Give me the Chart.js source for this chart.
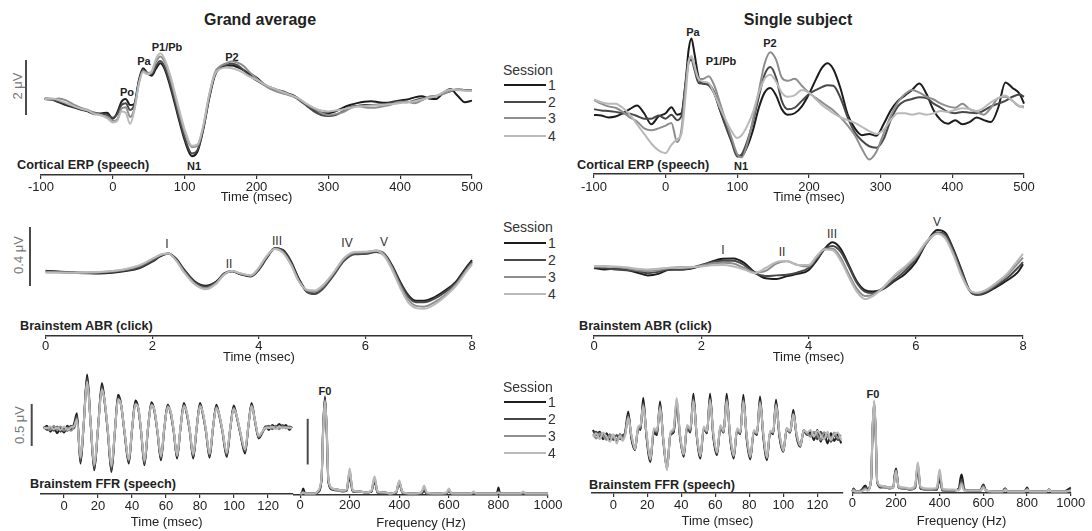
<!DOCTYPE html>
<html><head><meta charset="utf-8">
<script src="https://cdn.jsdelivr.net/npm/chart.js@4.4.1/dist/chart.umd.min.js"></script>
<style>
body{margin:0;background:#fff;}
#wrap{position:relative;width:1092px;height:531px;overflow:hidden;font-family:"Liberation Sans",Arial,Helvetica,sans-serif;color:#222;}
#wrap canvas{position:absolute;}
.c{position:absolute;white-space:nowrap;transform:translate(-50%,-50%);line-height:1;}
.l{position:absolute;white-space:nowrap;transform:translateY(-50%);line-height:1;}
.ttl{font-weight:bold;font-size:16px;}
.pk{font-weight:bold;font-size:11px;}
.rn{font-size:12px;color:#333;}
.pn{font-weight:bold;font-size:12.7px;}
.sb{font-size:13px;color:#777;transform:translate(-50%,-50%) rotate(-90deg);}
.lg{font-size:14px;color:#333;}
.ln{position:absolute;height:2px;width:42px;left:504px;}
</style></head><body><div id="wrap">
<div class="c ttl" style="left:260px;top:20px">Grand average</div>
<div class="c ttl" style="left:798px;top:20px">Single subject</div>

<div class="c pk" style="left:127px;top:92px">Po</div>
<div class="c pk" style="left:144px;top:61px">Pa</div>
<div class="c pk" style="left:167px;top:47px">P1/Pb</div>
<div class="c pk" style="left:232px;top:57px">P2</div>
<div class="c pk" style="left:194px;top:166px">N1</div>
<div class="c pk" style="left:693px;top:32px">Pa</div>
<div class="c pk" style="left:721px;top:61px">P1/Pb</div>
<div class="c pk" style="left:770px;top:43px">P2</div>
<div class="c pk" style="left:741px;top:166px">N1</div>

<div class="c rn" style="left:167px;top:244px">I</div>
<div class="c rn" style="left:229px;top:264px">II</div>
<div class="c rn" style="left:277px;top:241px">III</div>
<div class="c rn" style="left:347px;top:243px">IV</div>
<div class="c rn" style="left:384px;top:242px">V</div>
<div class="c rn" style="left:723px;top:250px">I</div>
<div class="c rn" style="left:782px;top:252px">II</div>
<div class="c rn" style="left:832px;top:234px">III</div>
<div class="c rn" style="left:937px;top:222px">V</div>

<div class="c pk" style="left:325px;top:391px">F0</div>
<div class="c pk" style="left:873px;top:394px">F0</div>

<div class="l pn" style="left:17px;top:165px">Cortical ERP (speech)</div>
<div class="l pn" style="left:577px;top:165px">Cortical ERP (speech)</div>
<div class="l pn" style="left:20px;top:326px">Brainstem ABR (click)</div>
<div class="l pn" style="left:579px;top:326px">Brainstem ABR (click)</div>
<div class="l pn" style="left:30px;top:484px">Brainstem FFR (speech)</div>
<div class="l pn" style="left:589px;top:485px">Brainstem FFR (speech)</div>

<div class="c sb" style="left:17px;top:86px">2 μV</div>
<div class="c sb" style="left:18px;top:255px">0.4 μV</div>
<div class="c sb" style="left:19px;top:425px">0.5 μV</div>
</div>
<script>
// ---------- DATA ----------
const sessions = ['1','2','3','4'];

// Axis tick labels
const erpTicks = [-100,0,100,200,300,400,500];
const abrTicks = [0,2,4,6,8];
const ffrTicks = [0,20,40,60,80,100,120];
const specTicks = [0,200,400,600,800,1000];

// Cortical ERP, grand average (µV)
const erpGaTime = [-95,-85,-75,-65,-55,-45,-35,-25,-15,-8,
 0,6,12,18,24,30,36,42,48,54,
 60,66,72,80,90,100,110,118,126,134,
 142,150,158,166,174,182,190,200,210,220,
 230,240,250,260,270,280,290,300,310,320,
 330,340,350,360,370,380,390,400,410,420,
 430,440,450,460,470,480,490,500];
const erpGaS1 = [0.00,-0.03,-0.12,-0.22,-0.30,-0.38,-0.45,-0.55,-0.52,-0.50,
 -0.72,-0.50,-0.10,0.00,-0.22,-0.18,0.65,1.12,0.95,0.85,
 1.10,1.30,1.10,0.45,-0.55,-1.50,-2.08,-1.90,-1.10,0.00,
 0.85,1.15,1.22,1.22,1.15,1.05,0.92,0.78,0.55,0.38,
 0.30,0.20,0.15,-0.02,-0.22,-0.40,-0.50,-0.52,-0.45,-0.32,
 -0.22,-0.15,-0.10,-0.08,-0.12,-0.14,-0.10,-0.05,-0.02,0.06,
 0.10,0.02,0.00,0.22,0.36,0.12,-0.12,-0.06];
const erpGaS2 = [0.02,0.00,-0.10,-0.18,-0.28,-0.36,-0.42,-0.50,-0.55,-0.58,
 -0.68,-0.55,-0.22,-0.15,-0.40,-0.20,0.60,1.05,0.92,0.90,
 1.20,1.38,1.18,0.55,-0.45,-1.40,-1.98,-1.85,-1.05,0.05,
 0.90,1.18,1.25,1.28,1.22,1.05,0.85,0.68,0.52,0.42,
 0.32,0.25,0.12,-0.05,-0.25,-0.45,-0.58,-0.62,-0.58,-0.45,
 -0.30,-0.25,-0.22,-0.22,-0.20,-0.18,-0.12,-0.10,-0.12,-0.05,
 0.02,0.05,0.10,0.20,0.28,0.35,0.33,0.32];
const erpGaS3 = [0.00,-0.02,0.02,-0.05,-0.20,-0.32,-0.40,-0.52,-0.60,-0.65,
 -0.80,-0.75,-0.35,-0.30,-0.65,-0.35,0.55,1.02,0.95,0.98,
 1.35,1.55,1.35,0.75,-0.25,-1.20,-1.75,-1.70,-1.00,0.10,
 0.95,1.20,1.30,1.36,1.32,1.20,0.98,0.75,0.52,0.36,
 0.25,0.18,0.10,-0.02,-0.20,-0.35,-0.50,-0.58,-0.55,-0.48,
 -0.35,-0.25,-0.30,-0.32,-0.30,-0.25,-0.18,-0.10,-0.10,-0.15,
 -0.05,0.08,0.12,0.18,0.30,0.35,0.32,0.30];
const erpGaS4 = [0.00,0.02,-0.05,-0.15,-0.25,-0.35,-0.42,-0.55,-0.60,-0.70,
 -0.85,-0.80,-0.45,-0.50,-0.90,-0.40,0.50,0.98,0.90,1.00,
 1.45,1.66,1.45,0.85,-0.15,-1.10,-1.70,-1.65,-0.95,0.15,
 0.90,1.10,1.15,1.12,1.05,0.95,0.82,0.70,0.55,0.42,
 0.32,0.22,0.12,0.00,-0.18,-0.32,-0.42,-0.45,-0.42,-0.38,
 -0.32,-0.28,-0.26,-0.24,-0.22,-0.20,-0.18,-0.15,-0.12,-0.08,
 -0.02,0.05,0.10,0.25,0.35,0.32,0.30,0.30];

// Cortical ERP, single subject (µV)
const erpSsTime = [-100,-90,-80,-70,-60,-50,-40,-30,-20,-10,
 0,8,16,22,28,32,36,40,46,52,
 60,68,76,84,92,100,106,114,122,130,
 138,146,154,162,170,180,190,200,210,218,
 226,234,244,254,264,274,284,294,304,314,
 324,334,344,354,364,374,384,394,404,414,
 424,434,444,454,464,474,484,494,500];
const erpSsS1 = [-0.36,-0.38,-0.45,-0.42,-0.30,-0.15,-0.02,-0.30,-0.70,-0.42,
 -0.30,-0.08,-0.35,-0.30,0.90,2.00,2.42,1.90,1.00,0.78,
 0.75,0.45,-0.20,-0.75,-1.30,-1.82,-1.85,-1.50,-0.90,-0.10,
 0.45,0.62,0.35,-0.15,-0.35,-0.30,-0.05,0.40,0.95,1.35,
 1.52,1.30,0.60,-0.35,-0.85,-1.10,-1.05,-1.12,-0.70,-0.20,
 0.15,0.35,0.55,0.78,0.40,-0.20,-0.55,-0.68,-0.55,-0.70,
 -0.62,-0.45,-0.55,-0.62,-0.10,0.82,0.62,0.40,0.05];
const erpSsS2 = [-0.15,-0.20,-0.22,-0.25,-0.30,-0.32,-0.40,-0.50,-0.50,-0.38,
 -0.50,-0.35,-0.55,-0.40,0.80,1.55,1.65,1.30,0.80,0.78,
 0.72,0.40,-0.20,-0.80,-1.35,-1.88,-1.80,-1.30,-0.60,0.30,
 1.10,1.38,1.00,0.15,-0.15,-0.10,0.15,0.40,0.55,0.65,
 0.72,0.70,0.25,-0.45,-1.00,-1.30,-1.50,-1.55,-1.25,-0.55,
 -0.05,0.15,0.22,0.28,0.25,0.05,-0.10,-0.25,-0.30,-0.25,
 -0.28,-0.30,-0.20,-0.05,0.05,0.15,0.30,0.38,0.30];
const erpSsS3 = [0.18,0.05,-0.05,-0.10,-0.25,-0.45,-0.60,-0.85,-0.92,-0.85,
 -0.75,-0.65,-1.35,-0.90,0.70,1.60,1.75,1.40,0.95,0.95,
 1.05,0.70,0.05,-0.60,-1.20,-1.80,-1.90,-1.40,-0.50,0.50,
 1.50,1.92,1.65,1.00,0.88,0.95,0.70,0.45,0.25,0.10,
 -0.05,-0.20,-0.45,-0.75,-1.10,-1.60,-1.98,-1.70,-1.05,-0.40,
 0.10,0.40,0.55,0.45,0.30,0.20,0.05,-0.05,-0.10,0.05,
 -0.15,-0.25,-0.35,-0.10,0.25,0.30,0.15,-0.05,-0.05];
const erpSsS4 = [0.20,0.10,0.05,0.05,-0.10,-0.35,-0.70,-1.05,-1.40,-1.65,
 -1.75,-1.45,-1.25,-1.05,0.40,1.55,1.78,1.45,0.95,0.85,
 0.80,0.40,-0.10,-0.55,-0.95,-1.20,-1.10,-0.75,-0.25,0.45,
 0.95,1.10,0.85,0.45,0.30,0.35,0.55,0.45,0.20,0.00,
 -0.15,-0.30,-0.45,-0.55,-0.65,-0.80,-0.95,-1.05,-0.90,-0.55,
 -0.30,-0.30,-0.35,-0.30,-0.35,-0.30,-0.22,-0.25,-0.18,-0.12,
 -0.15,-0.22,-0.10,0.10,0.25,0.35,0.15,-0.05,-0.10];

// Brainstem ABR, grand average (µV)
const abrGaTime = [0,0.25,0.5,0.75,1.0,1.25,1.5,1.75,2.0,2.15,
 2.3,2.45,2.6,2.8,3.0,3.2,3.35,3.5,3.65,3.85,
 4.0,4.15,4.3,4.45,4.6,4.75,4.9,5.05,5.2,5.4,
 5.6,5.8,6.0,6.2,6.35,6.5,6.65,6.8,6.95,7.1,
 7.3,7.5,7.7,7.9,8.0];
const abrGaS1 = [0.014,0.005,0.0,-0.003,-0.005,0.0,0.012,0.03,0.075,0.11,
 0.128,0.095,0.02,-0.06,-0.088,-0.06,-0.005,0.01,-0.01,-0.025,
 0.02,0.10,0.165,0.155,0.08,-0.04,-0.125,-0.14,-0.10,-0.01,
 0.09,0.13,0.13,0.145,0.13,0.05,-0.06,-0.15,-0.19,-0.19,
 -0.165,-0.12,-0.06,0.04,0.085];
const abrGaS2 = [0.01,0.008,0.003,0.0,-0.002,0.005,0.015,0.035,0.08,0.115,
 0.13,0.09,0.015,-0.065,-0.095,-0.065,-0.01,0.01,-0.008,-0.022,
 0.025,0.105,0.168,0.15,0.07,-0.05,-0.13,-0.145,-0.11,-0.02,
 0.08,0.125,0.128,0.14,0.12,0.04,-0.07,-0.16,-0.2,-0.2,
 -0.175,-0.13,-0.07,0.03,0.075];
const abrGaS3 = [0.005,0.003,0.0,0.0,0.003,0.01,0.022,0.045,0.09,0.12,
 0.13,0.085,0.005,-0.075,-0.105,-0.07,-0.01,0.012,-0.005,-0.02,
 0.03,0.11,0.162,0.14,0.06,-0.055,-0.12,-0.13,-0.095,-0.005,
 0.095,0.135,0.138,0.15,0.125,0.035,-0.085,-0.18,-0.225,-0.23,
 -0.2,-0.15,-0.08,0.02,0.065];
const abrGaS4 = [0.0,0.0,0.0,0.002,0.005,0.012,0.025,0.05,0.095,0.122,
 0.13,0.08,0.0,-0.08,-0.113,-0.075,-0.012,0.012,-0.004,-0.018,
 0.035,0.115,0.16,0.135,0.055,-0.06,-0.115,-0.12,-0.085,0.0,
 0.1,0.14,0.142,0.148,0.115,0.02,-0.1,-0.2,-0.24,-0.245,
 -0.215,-0.16,-0.09,0.01,0.055];

// Brainstem ABR, single subject (µV)
const abrSsTime = [0,0.2,0.4,0.6,0.8,1.0,1.2,1.4,1.6,1.8,
 2.0,2.2,2.4,2.6,2.8,3.0,3.2,3.4,3.6,3.8,
 4.0,4.15,4.3,4.45,4.6,4.75,4.9,5.05,5.2,5.4,
 5.6,5.8,6.0,6.2,6.4,6.55,6.7,6.85,7.0,7.15,
 7.3,7.5,7.7,7.9,8.0];
const abrSsS1 = [0.0,-0.01,-0.005,-0.012,-0.03,-0.05,-0.04,-0.012,-0.01,-0.005,
 0.015,0.045,0.063,0.065,0.035,-0.03,-0.07,-0.075,-0.055,-0.04,
 -0.015,0.05,0.13,0.174,0.13,0.02,-0.09,-0.15,-0.16,-0.14,
 -0.09,-0.04,0.04,0.17,0.258,0.24,0.13,-0.01,-0.15,-0.182,
 -0.17,-0.13,-0.085,-0.03,0.025];
const abrSsS2 = [0.005,0.0,-0.01,-0.015,-0.02,-0.035,-0.025,-0.01,-0.012,0.0,
 0.02,0.04,0.05,0.05,0.02,-0.035,-0.055,-0.05,-0.045,-0.03,
 0.0,0.06,0.125,0.15,0.11,0.01,-0.1,-0.16,-0.17,-0.14,
 -0.08,-0.02,0.06,0.17,0.24,0.225,0.12,-0.02,-0.15,-0.18,
 -0.165,-0.12,-0.07,0.0,0.04];
const abrSsS3 = [0.01,0.012,0.005,0.0,-0.015,-0.02,-0.015,0.0,0.005,0.005,
 0.015,0.03,0.035,0.03,0.0,-0.03,-0.02,0.03,0.045,0.02,
 0.01,0.07,0.13,0.13,0.07,-0.04,-0.14,-0.19,-0.18,-0.13,
 -0.06,0.0,0.07,0.17,0.235,0.21,0.1,-0.04,-0.15,-0.17,
 -0.155,-0.11,-0.05,0.03,0.07];
const abrSsS4 = [0.012,0.01,0.01,0.005,-0.005,-0.01,-0.005,0.002,0.0,0.005,
 0.01,0.018,0.02,0.01,-0.01,-0.035,0.0,0.04,0.047,0.02,
 0.02,0.08,0.125,0.12,0.05,-0.06,-0.16,-0.21,-0.19,-0.13,
 -0.05,0.01,0.08,0.18,0.232,0.2,0.09,-0.05,-0.15,-0.168,
 -0.15,-0.1,-0.04,0.05,0.095];

// Brainstem FFR waveform, grand average (µV)
const ffrGaTime = [-12,-10,-8,-6,-4,-2,0,2,4,6,
 7.6,9.7,11.6,13.6,15.7,17.8,20,22.3,24,25.8,
 27.9,30,31.8,33.5,35.6,38.1,40,42,43.7,45.4,
 47.3,49.4,51.4,53.1,55,57,59,61,62.8,64.6,
 66.5,68.5,70.5,72.2,74,76,78,80,81.7,83.5,
 85.6,87.6,89.6,91.3,93.2,95.7,97.8,99.8,101.5,103.6,
 106.5,108.4,110.3,112.4,114.5,116.5,118.5,120.5,122.5,124.5,
 126.5,128.5,130.5,132.5,134];
const ffrGaS1 = [0.0,0.03,-0.04,0.02,-0.06,0.01,-0.05,0.03,-0.02,0.06,
 0.18,-0.42,0.05,0.64,0.05,-0.50,0.0,0.54,0.30,-0.05,
 -0.52,-0.02,0.40,0.30,-0.05,-0.42,-0.02,0.33,0.24,-0.05,
 -0.44,0.0,0.31,0.22,-0.05,-0.38,0.0,0.28,0.18,-0.05,
 -0.36,0.0,0.30,0.18,-0.04,-0.36,0.0,0.30,0.17,-0.04,
 -0.35,0.0,0.28,0.16,-0.04,-0.34,0.0,0.27,0.15,-0.05,
 -0.30,0.02,0.30,0.08,-0.12,-0.06,0.02,-0.02,0.04,0.0,
 0.05,0.01,0.04,-0.02,0.02];
const ffrGaS2 = [0.02,-0.02,0.01,-0.03,0.02,-0.04,0.0,-0.03,0.03,0.0,
 0.15,-0.40,0.05,0.60,0.05,-0.48,0.0,0.50,0.30,-0.05,
 -0.50,-0.02,0.37,0.28,-0.05,-0.40,-0.02,0.30,0.23,-0.05,
 -0.42,0.0,0.29,0.21,-0.05,-0.36,0.0,0.27,0.17,-0.05,
 -0.34,0.0,0.28,0.17,-0.04,-0.34,0.0,0.28,0.16,-0.04,
 -0.33,0.0,0.26,0.15,-0.04,-0.32,0.0,0.25,0.14,-0.05,
 -0.28,0.02,0.28,0.07,-0.11,-0.05,0.01,0.03,-0.01,0.03,
 0.01,0.04,0.0,0.02,0.0];
const ffrGaS3 = [0.0,0.01,-0.02,0.03,-0.02,0.02,-0.03,0.01,-0.03,0.02,
 0.12,-0.36,0.05,0.56,0.05,-0.45,0.0,0.47,0.30,-0.03,
 -0.46,-0.02,0.35,0.28,-0.04,-0.38,-0.02,0.29,0.24,-0.04,
 -0.40,0.0,0.28,0.22,-0.04,-0.34,0.0,0.26,0.19,-0.04,
 -0.33,0.0,0.27,0.19,-0.03,-0.32,0.0,0.27,0.18,-0.03,
 -0.31,0.0,0.25,0.16,-0.03,-0.30,0.0,0.24,0.15,-0.04,
 -0.26,0.02,0.27,0.08,-0.10,-0.05,0.0,0.02,0.0,0.02,
 -0.01,0.02,0.01,0.0,0.01];
const ffrGaS4 = [0.01,0.0,0.02,-0.01,0.01,-0.02,0.02,-0.02,0.01,0.03,
 0.10,-0.34,0.06,0.55,0.06,-0.43,0.0,0.46,0.32,-0.02,
 -0.44,-0.01,0.34,0.29,-0.03,-0.37,-0.01,0.28,0.25,-0.03,
 -0.38,0.01,0.27,0.23,-0.03,-0.33,0.01,0.25,0.20,-0.03,
 -0.32,0.01,0.26,0.20,-0.02,-0.31,0.01,0.26,0.19,-0.02,
 -0.30,0.01,0.24,0.17,-0.02,-0.29,0.01,0.23,0.16,-0.03,
 -0.25,0.03,0.26,0.09,-0.09,-0.04,0.01,0.0,0.02,-0.01,
 0.02,0.0,0.01,0.01,0.0];

// Brainstem FFR waveform, single subject (µV)
const ffrSsTime = [-12,-10,-8,-6,-4,-2,0,2,4,5.5,
 7,8.8,10.6,12.8,14.6,16,17.6,19.5,21.8,23.8,
 25.7,27.5,29.4,31.6,33.6,35.5,37.3,39.2,41.4,43.4,
 45.3,47.1,49,51.2,53.2,55.1,56.9,58.8,61,63,
 64.9,66.7,68.6,70.8,72.8,74.7,76.5,78.4,80.6,82.6,
 84.5,86.3,88.2,90.4,92.2,94,95.7,97.7,100,102,
 104,105.9,107.8,110,112,114,116,118,120,122,
 124,126,128,130,132,134];
const ffrSsS1 = [0.08,0.02,0.06,-0.03,0.04,-0.05,0.02,-0.06,0.03,-0.04,
 0.06,0.30,-0.02,-0.16,0.10,0.08,0.46,0.0,-0.30,0.05,
 0.02,0.42,-0.05,-0.38,0.02,0.05,0.40,0.0,-0.24,0.12,
 0.05,0.51,0.02,-0.26,0.10,0.04,0.51,0.0,-0.22,0.12,
 0.05,0.51,0.0,-0.26,0.08,0.03,0.50,-0.02,-0.27,0.06,
 0.02,0.48,0.0,-0.28,0.05,0.03,0.44,0.0,-0.18,0.10,
 0.05,0.32,0.0,-0.12,0.08,0.02,0.06,-0.04,0.08,-0.06,
 0.05,-0.08,0.04,-0.05,0.03,-0.08];
const ffrSsS2 = [0.05,0.06,0.0,0.04,-0.02,0.03,-0.04,0.02,-0.03,0.02,
 0.04,0.26,0.0,-0.14,0.08,0.10,0.40,0.02,-0.28,0.06,
 0.04,0.38,-0.04,-0.36,0.03,0.06,0.40,0.02,-0.22,0.10,
 0.06,0.46,0.03,-0.24,0.09,0.05,0.46,0.02,-0.20,0.10,
 0.05,0.46,0.02,-0.24,0.07,0.04,0.45,0.0,-0.25,0.05,
 0.03,0.43,0.02,-0.26,0.05,0.04,0.40,0.02,-0.17,0.08,
 0.05,0.28,0.02,-0.10,0.06,0.03,0.03,0.05,-0.03,0.06,
 -0.02,0.04,-0.06,0.02,-0.04,-0.02];
const ffrSsS3 = [0.03,-0.02,0.04,0.01,-0.04,0.02,0.0,-0.03,0.0,-0.02,
 0.03,0.24,0.02,-0.13,0.10,0.12,0.38,0.04,-0.26,0.08,
 0.06,0.36,-0.02,-0.38,0.04,0.08,0.44,0.03,-0.20,0.12,
 0.08,0.44,0.04,-0.22,0.10,0.06,0.44,0.04,-0.18,0.12,
 0.06,0.44,0.04,-0.22,0.08,0.05,0.43,0.02,-0.23,0.06,
 0.04,0.41,0.04,-0.24,0.06,0.05,0.38,0.04,-0.16,0.09,
 0.06,0.27,0.03,-0.10,0.07,0.04,0.0,0.06,0.02,-0.04,
 0.05,0.0,-0.03,0.05,-0.02,0.02];
const ffrSsS4 = [0.0,0.04,-0.03,0.05,0.0,-0.06,0.03,-0.08,0.02,-0.05,
 0.02,0.22,0.03,-0.15,0.12,0.14,0.36,0.05,-0.27,0.10,
 0.08,0.34,-0.02,-0.40,0.05,0.10,0.46,0.04,-0.21,0.14,
 0.10,0.42,0.05,-0.23,0.12,0.07,0.43,0.05,-0.19,0.14,
 0.07,0.42,0.05,-0.23,0.10,0.06,0.41,0.03,-0.24,0.08,
 0.05,0.40,0.05,-0.25,0.07,0.06,0.37,0.05,-0.17,0.10,
 0.07,0.26,0.04,-0.11,0.08,0.05,0.08,0.0,0.07,0.02,
 -0.03,0.06,-0.04,0.03,0.05,-0.04];

// FFR spectra (arbitrary amplitude units)
const specFreq = [0,6,12,20,40,60,70,
 86,93,100,107,114, 130,150,170,
 188,194,200,206,212, 240,265,
 288,294,300,306,312, 340,365,
 388,394,400,406,412, 440,465,
 488,494,500,506,512, 540,565,
 588,594,600,606,612, 640,665,
 688,694,700,706,712, 740,765,
 788,794,800,806,812, 840,865,
 888,894,900,906,912, 940,970,1000];
const specGaS1 = [1,1,6,1,1,1,2, 14,70,98,62,12, 5,5,3, 4,12,18,10,3, 3,2, 3,9,13,8,2, 2,1, 2,8,12,7,2, 1,1, 1,2,4,2,1, 1,1, 1,2,5,2,1, 1,1, 1,1,2,1,1, 1,1, 1,1,7,1,1, 1,1, 1,1,1,1,1, 1,1,1];
const specGaS2 = [1,1,3,1,1,1,2, 15,68,96,64,13, 5,4,4, 4,14,22,12,3, 3,2, 3,10,15,9,2, 2,1, 2,8,12,7,2, 1,1, 1,3,6,3,1, 1,1, 1,2,4,2,1, 1,1, 1,1,1,1,1, 1,1, 1,2,3,2,1, 1,1, 1,1,1,1,1, 1,1,1];
const specGaS3 = [1,1,2,1,1,1,3, 16,66,94,66,14, 6,4,3, 5,15,24,13,4, 3,2, 4,11,17,10,3, 2,1, 3,9,13,8,2, 1,1, 2,4,8,4,1, 1,1, 1,3,5,3,1, 1,1, 1,1,2,1,1, 1,1, 1,1,2,1,1, 1,1, 1,1,2,1,1, 1,1,1];
const specGaS4 = [1,1,2,1,1,1,3, 17,65,93,67,15, 6,5,4, 5,16,26,14,4, 3,2, 4,12,18,11,3, 2,1, 3,9,14,9,3, 1,1, 2,5,9,5,2, 1,1, 2,3,6,3,1, 1,1, 1,2,3,2,1, 1,1, 1,1,2,1,1, 1,1, 1,2,3,2,1, 1,1,1];
const specSsS1 = [1,4,2,1,2,7,3, 12,62,88,58,10, 5,6,4, 6,18,24,15,5, 4,3, 5,16,23,14,4, 3,3, 3,9,13,8,2, 2,2, 4,13,18,12,3, 2,2, 2,6,8,5,2, 1,1, 1,3,4,2,1, 1,1, 1,3,5,2,1, 1,1, 1,2,3,2,1, 1,1,5];
const specSsS2 = [1,3,2,1,2,5,3, 13,64,90,60,11, 6,5,5, 5,16,22,14,5, 4,3, 5,18,26,16,4, 3,3, 3,12,17,10,3, 2,2, 3,9,13,8,3, 2,2, 2,5,7,4,2, 1,1, 1,2,4,2,1, 1,1, 1,2,4,2,1, 1,1, 1,2,3,2,1, 1,1,3];
const specSsS3 = [1,3,1,1,1,4,2, 13,65,91,61,11, 6,5,4, 5,15,22,13,5, 4,3, 6,19,28,17,5, 3,3, 4,14,20,12,3, 2,2, 3,6,10,6,2, 2,2, 2,4,6,4,2, 1,1, 1,2,3,2,1, 1,1, 1,2,3,2,1, 1,1, 1,2,3,2,1, 1,1,2];
const specSsS4 = [1,2,1,1,1,3,2, 14,66,92,62,12, 7,6,5, 5,14,21,13,6, 5,4, 7,21,30,18,6, 4,4, 5,16,23,14,4, 3,3, 2,5,8,5,2, 2,2, 2,4,5,3,2, 1,1, 1,2,3,2,1, 1,1, 1,2,3,2,1, 1,1, 1,2,3,2,1, 1,1,2];

// ---------- STYLE / LAYOUT ----------
const sessionColors = ['#1c1c1c','#484848','#8e8e8e','#b9b9b9'];
Chart.defaults.font.family = '"Liberation Sans", Arial, Helvetica, sans-serif';

const panels = [
 {time:erpGaTime, series:[erpGaS1,erpGaS2,erpGaS3,erpGaS4], ticks:erpTicks, left:41, right:472, top:20, axis:175, zero:99, ppu:27.5,
  xmin:-100, xmax:500, title:'Time (msec)', hAxis:30, pad:1, tl:4, bar:{px:26, v0:-0.58, len:2}},
 {time:erpSsTime, series:[erpSsS1,erpSsS2,erpSsS3,erpSsS4], ticks:erpTicks, left:594, right:1024, top:20, axis:174, zero:105, ppu:27.5,
  xmin:-100, xmax:500, title:'Time (msec)', hAxis:31, pad:2, tl:4},
 {time:abrGaTime, series:[abrGaS1,abrGaS2,abrGaS3,abrGaS4], ticks:abrTicks, left:45.7, right:472, top:212, axis:336, zero:272.7, ppu:147.5,
  xmin:0, xmax:8, title:'Time (msec)', hAxis:29, pad:0, tl:3, bar:{px:30, v0:-0.09, len:0.4}},
 {time:abrSsTime, series:[abrSsS1,abrSsS2,abrSsS3,abrSsS4], ticks:abrTicks, left:594, right:1023, top:212, axis:336, zero:268, ppu:147.5,
  xmin:0, xmax:8, title:'Time (msec)', hAxis:29, pad:0, tl:3},
 {time:ffrGaTime, series:[ffrGaS1,ffrGaS2,ffrGaS3,ffrGaS4], ticks:ffrTicks, left:40.7, right:292.7, top:365, axis:494, zero:428.3, ppu:84,
  xmin:-13.7, xmax:134.5, title:'Time (msec)', hAxis:36, pad:1, tl:4, bar:{px:31.7, v0:-0.21, len:0.5}},
 {time:specFreq, series:[specGaS1,specGaS2,specGaS3,specGaS4], ticks:specTicks, left:294, right:548, top:385, axis:495, zero:494.5, ppu:1,
  xmin:-25, xmax:1000, title:'Frequency (Hz)', hAxis:36, pad:0, tl:3, bar:{px:307.7, v0:30, len:45.7}},
 {time:ffrSsTime, series:[ffrSsS1,ffrSsS2,ffrSsS3,ffrSsS4], ticks:ffrTicks, left:591.7, right:843, top:365, axis:493, zero:436.7, ppu:84,
  xmin:-12.7, xmax:135.1, title:'Time (msec)', hAxis:36, pad:1, tl:4},
 {time:specFreq, series:[specSsS1,specSsS2,specSsS3,specSsS4], ticks:specTicks, left:852.3, right:1070.8, top:385, axis:493, zero:492.5, ppu:1,
  xmin:0, xmax:1000, title:'Frequency (Hz)', hAxis:36, pad:0, tl:3}
];

const scaleBar = {
  id:'scaleBar',
  afterDraw(chart, args, opts){
    if(!opts || !opts.len) return;
    const ctx = chart.ctx, y = chart.scales.y;
    const x = opts.px - opts.canvasLeft;
    ctx.save();
    ctx.strokeStyle = '#4a4a4a'; ctx.lineWidth = 2;
    ctx.beginPath();
    ctx.moveTo(x, y.getPixelForValue(opts.v0));
    ctx.lineTo(x, y.getPixelForValue(opts.v0 + opts.len));
    ctx.stroke();
    ctx.restore();
  }
};

const wrap = document.getElementById('wrap');
panels.forEach(p => {
  const cl = Math.round(p.left - 22);
  const PL = p.left - cl;
  const cw = Math.ceil(p.right + 22) - cl;
  const PR = cw - PL - (p.right - p.left);
  const ct = p.top;
  const ch = p.axis - ct + p.hAxis;
  const cv = document.createElement('canvas');
  cv.width = cw; cv.height = ch;
  cv.style.left = cl + 'px'; cv.style.top = ct + 'px';
  cv.style.width = cw + 'px'; cv.style.height = ch + 'px';
  wrap.appendChild(cv);
  const ymax = (p.zero - ct) / p.ppu;
  const ymin = (p.zero - p.axis) / p.ppu;
  new Chart(cv.getContext('2d'), {
    type:'line',
    data:{datasets: p.series.map((s,i)=>({
      label:'Session ' + sessions[i],
      data: p.time.map((t,k)=>({x:t, y:s[k]})),
      borderColor: sessionColors[i], borderWidth: 2,
      pointRadius:0, fill:false, cubicInterpolationMode:'monotone',
      clip:false, order: 4 - i
    }))},
    options:{
      responsive:false, animation:false, devicePixelRatio:1, events:[],
      layout:{padding:{left:PL, right:PR, top:0, bottom:0}},
      plugins:{legend:{display:false}, tooltip:{enabled:false},
        scaleBar: p.bar ? Object.assign({canvasLeft:cl}, p.bar) : {}},
      scales:{
        x:{type:'linear', min:p.xmin, max:p.xmax,
          afterFit: s => { s.height = p.hAxis; },
          afterBuildTicks: s => { s.ticks = p.ticks.map(v => ({value:v})); },
          ticks:{autoSkip:false, maxRotation:0, padding:p.pad, color:'#222', font:{size:13},
            callback: v => String(v)},
          grid:{display:true, drawOnChartArea:false, drawTicks:true, tickLength:p.tl, color:'#333', lineWidth:1.2},
          border:{display:true, color:'#333', width:1.5},
          title:{display:true, text:p.title, color:'#222', font:{size:13}, padding:{top:0, bottom:0}}
        },
        y:{display:false, min:ymin, max:ymax}
      }
    },
    plugins:[scaleBar]
  });
});

// Legends (Session 1..4), three copies in the middle column
const legends = [{y:70, rows:[85,101.7,118.3,135.7]}, {y:227, rows:[242.7,260,276.7,294]}, {y:387, rows:[402.3,419.3,436,452.7]}];
legends.forEach(L => {
  const h = document.createElement('div');
  h.className = 'l lg'; h.style.left = '503px'; h.style.top = L.y + 'px'; h.textContent = 'Session';
  wrap.appendChild(h);
  L.rows.forEach((ry, i) => {
    const ln = document.createElement('div');
    ln.className = 'ln'; ln.style.top = (ry - 1) + 'px'; ln.style.background = sessionColors[i];
    wrap.appendChild(ln);
    const n = document.createElement('div');
    n.className = 'l lg'; n.style.left = '548px'; n.style.top = ry + 'px'; n.textContent = sessions[i];
    wrap.appendChild(n);
  });
});
</script>
</body></html>
